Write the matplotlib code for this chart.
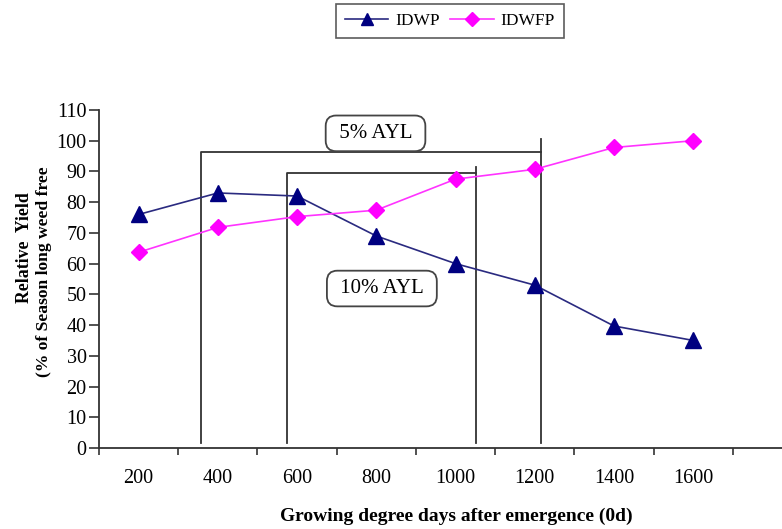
import matplotlib.pyplot as plt
from matplotlib.lines import Line2D

plt.rcParams['font.family'] = ['Liberation Serif', 'DejaVu Serif']

gdd = [200, 400, 600, 800, 1000, 1200, 1400, 1600]
idwp = [76, 83, 82, 69, 60, 53, 39.7, 35]
idwfp = [63.7, 71.8, 75.3, 77.4, 87.5, 90.7, 97.8, 100]

# critical period bounds (GDD) and box heights (%)
ayl5 = [358, 1216]
ayl10 = [575, 1052]
ayl5_top, ayl5_peak = 96.3, 100.5
ayl10_top, ayl10_peak = 89.4, 91.3
box_bottom = 1.5


def to_x(g):
    # category axis: 200 GDD -> slot 0
    return g / 200.0 - 1


fig = plt.figure(figsize=(7.82, 5.29), dpi=100)
ax = fig.add_axes([99 / 782, 81 / 529, 1 - 99 / 782, 338 / 529])

xs = list(range(len(gdd)))
ax.plot(xs, idwp, color='#2a2a80', lw=1.2, marker='^', ms=11,
        mfc='#000080', mec='#000080', zorder=3)
ax.plot(xs, idwfp, color='#ff33ff', lw=1.2, marker='D', ms=8.5,
        mfc='#ff00ff', mec='#ff00ff', zorder=3)

lc = '#333333'
# 5% AYL box
x0, x1 = to_x(ayl5[0]), to_x(ayl5[1])
ax.plot([x0, x0, x1], [box_bottom, ayl5_top, ayl5_top], color=lc, lw=1.3)
ax.plot([x1, x1], [box_bottom, ayl5_peak], color=lc, lw=1.3)
# 10% AYL box
x0, x1 = to_x(ayl10[0]), to_x(ayl10[1])
ax.plot([x0, x0, x1], [box_bottom, ayl10_top, ayl10_top], color=lc, lw=1.3)
ax.plot([x1, x1], [box_bottom, ayl10_peak], color=lc, lw=1.3)

bbox = dict(boxstyle='round,pad=0.4,rounding_size=0.5', fc='white', ec='#444444', lw=1.3)
ax.text(2.99, 102.4, ' 5% AYL ', ha='center', va='center', fontsize=15, bbox=bbox, zorder=4)
ax.text(3.07, 51.9, ' 10% AYL ', ha='center', va='center', fontsize=15, bbox=bbox, zorder=4)

ax.set_xlim(-0.5, 8.12)
ax.set_ylim(0, 110)
ax.set_xticks([i - 0.5 for i in range(9)])
ax.set_xticklabels([])
ax.set_xticks(xs, minor=True)
ax.set_xticklabels([str(g) for g in gdd], minor=True)
ax.tick_params(axis='x', which='minor', length=0, pad=15, labelsize=14.5)
ax.tick_params(axis='x', which='major', length=5, width=1.2, color=lc, direction='out')
ax.set_yticks(range(0, 111, 10))
ax.tick_params(axis='y', length=7, width=1.2, color=lc, labelsize=14.5, pad=2)

for s in ['top', 'right']:
    ax.spines[s].set_visible(False)
for s in ['left', 'bottom']:
    ax.spines[s].set_color(lc)
    ax.spines[s].set_linewidth(1.3)

fig.text(456 / 782, 1 - 516 / 529, 'Growing degree days after emergence (0d)',
         ha='center', va='center', fontsize=14, fontweight='bold')
fig.text(25 / 782, 1 - 248 / 529, 'Relative  Yield', rotation=90,
         ha='center', va='center', fontsize=12.8, fontweight='bold')
fig.text(44 / 782, 1 - 272 / 529, '(% of Season long weed free', rotation=90,
         ha='center', va='center', fontsize=12.6, fontweight='bold')

handles = [
    Line2D([], [], color='#2a2a80', lw=1.2, marker='^', ms=9, mfc='#000080', mec='#000080'),
    Line2D([], [], color='#ff33ff', lw=1.2, marker='D', ms=7, mfc='#ff00ff', mec='#ff00ff'),
]
leg = fig.legend(handles, ['IDWP', 'IDWFP'], loc='center', bbox_to_anchor=(450 / 782, 1 - 21 / 529),
                 ncol=2, frameon=True, fancybox=False, fontsize=12.5, handlelength=2.5,
                 columnspacing=0.6, handletextpad=0.4, borderpad=0.5)
leg.get_frame().set_edgecolor('#333333')
leg.get_frame().set_linewidth(1.2)

fig.savefig('out.png', dpi=100)
